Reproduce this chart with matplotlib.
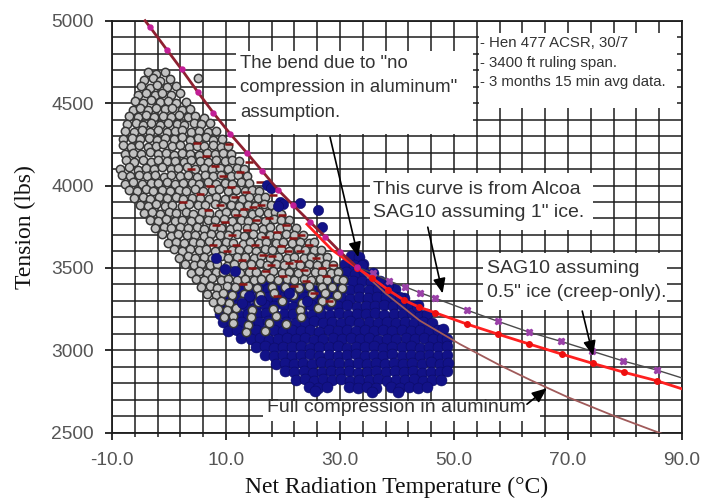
import numpy as np
import matplotlib
matplotlib.use("Agg")
import matplotlib.pyplot as plt
from matplotlib.patches import Rectangle

# ---------------- data ----------------
# common "no compression" curve above the bend (thick maroon, magenta markers)
upper_temp = [-4.2, -3.3, -0.4, 2.2, 5.1, 7.8, 10.7, 13.6, 16.3, 19.1, 21.8, 24.7, 27.4, 30.0, 33.0]
upper_tension = [5000, 4960, 4825, 4705, 4565, 4440, 4315, 4200, 4090, 3975, 3880, 3780, 3690, 3598, 3505]

# SAG10 assuming 1" ice, below the bend
ice1_temp = [33.0, 35.8, 38.6, 41.4, 44.0, 46.7, 52.2, 57.7, 63.1, 68.8, 74.2, 79.7, 85.6, 90.0]
ice1_tension = [3505, 3467, 3420, 3386, 3350, 3316, 3245, 3176, 3111, 3054, 2995, 2935, 2880, 2832]

# SAG10 assuming 0.5" ice (creep-only)
ice05_temp = [24.2, 28.5, 33.0, 35.6, 38.5, 41.2, 43.9, 46.7, 52.2, 57.7, 63.2, 68.9, 74.3, 79.8, 85.6, 90.0]
ice05_tension = [3765, 3612, 3500, 3440, 3365, 3305, 3262, 3228, 3160, 3098, 3038, 2977, 2921, 2867, 2815, 2766]

# Full compression in aluminum
full_temp = [33.0, 38.0, 44.0, 51.0, 58.0, 63.5, 69.8, 77.7, 85.8, 88.0]
full_tension = [3505, 3345, 3180, 3038, 2910, 2818, 2718, 2607, 2502, 2475]

# measured data, 15-min averages (temperature, tension) pairs
gray_pts = [
    -3.6,4686, -2.2,4679, -0.7,4690, 5.1,4655,
    -4.3,4640, -2.8,4652, -1.5,4637, 0.2,4646,
    -4.9,4604, -3.4,4591, -2.1,4607, -0.4,4596, 1.2,4601,
    -5.5,4550, -4.1,4561, -2.5,4547, -1.2,4559, 0.4,4552, 1.9,4562,
    -6.0,4513, -4.5,4502, -3.2,4516, -1.6,4505, -0.1,4512, 1.3,4501, 2.9,4509,
    -6.4,4460, -5.1,4468, -3.6,4457, -2.3,4471, -0.7,4462, 0.6,4469, 2.2,4458, 3.7,4466,
    -7.0,4423, -5.5,4415, -4.0,4426, -2.7,4413, -1.1,4421, 0.4,4417, 1.8,4427, 3.3,4414, 4.6,4420, 6.1,4411,
    -7.3,4372, -5.8,4381, -4.5,4369, -3.1,4378, -1.5,4368, -0.2,4382, 1.4,4374, 2.7,4366, 4.3,4379, 5.6,4371, 7.2,4377,
    -7.7,4333, -6.1,4324, -4.7,4337, -3.4,4326, -1.9,4334, -0.4,4323, 1.0,4331, 2.3,4339, 3.9,4325, 5.2,4333, 6.8,4322, 8.3,4330,
    -8.0,4281, -6.5,4291, -5.1,4282, -3.5,4289, -2.1,4278, -0.7,4287, 0.8,4281, 2.2,4292, 3.6,4279, 5.0,4286, 6.5,4293, 7.8,4278, 9.3,4285,
    -8.1,4243, -6.7,4235, -5.2,4246, -3.7,4233, -2.3,4241, -1.0,4249, 0.6,4237, 1.9,4245, 3.5,4234, 4.9,4242, 6.2,4238, 7.7,4247, 9.1,4235, 10.4,4241,
    -7.8,4192, -6.3,4200, -4.9,4189, -3.4,4201, -2.0,4193, -0.6,4197, 0.9,4188, 2.3,4200, 3.7,4194, 5.2,4187, 6.6,4198, 8.0,4190, 9.5,4196, 10.9,4189,
    -7.6,4154, -6.2,4145, -4.6,4152, -3.2,4142, -1.9,4156, -0.3,4147, 1.0,4151, 2.6,4143, 3.9,4157, 5.4,4149, 6.9,4142, 8.2,4153, 9.8,4146, 11.1,4152, 12.3,4147,
    -8.6,4101, -7.0,4110, -5.5,4097, -4.1,4107, -2.6,4103, -1.2,4111, 0.3,4098, 1.6,4106, 3.2,4112, 4.6,4099, 6.1,4108, 7.5,4101, 9.0,4106, 10.3,4098, 11.9,4109, 13.1,4102,
    -8.3,4063, -6.8,4055, -5.3,4065, -3.9,4056, -2.4,4062, -0.9,4053, 0.4,4066, 2.0,4057, 3.4,4061, 4.9,4054, 6.3,4066, 7.8,4058, 9.2,4063, 10.8,4055, 12.1,4062, 13.7,4057,
    -7.7,4012, -6.3,4020, -4.8,4010, -3.2,4018, -1.9,4013, -0.4,4021, 1.1,4009, 2.4,4017, 4.0,4014, 5.3,4008, 6.9,4019, 8.2,4012, 9.8,4016, 11.1,4009, 12.7,4020, 14.1,4013,
    -7.1,3973, -5.7,3965, -4.1,3976, -2.8,3967, -1.2,3972, 0.2,3964, 1.7,3975, 3.0,3968, 4.6,3978, 5.9,3966, 7.5,3971, 8.8,3977, 10.4,3966, 11.7,3973, 13.3,3964, 14.6,3972, 15.8,3967,
    -6.1,3922, -4.6,3930, -3.3,3919, -1.7,3928, -0.3,3923, 1.2,3932, 2.5,3920, 4.1,3927, 5.4,3924, 7.0,3918, 8.3,3931, 9.9,3921, 11.2,3926, 12.8,3919, 14.1,3930, 15.7,3923, 16.8,3928,
    -5.1,3884, -3.6,3876, -2.3,3887, -0.7,3878, 0.6,3883, 2.2,3875, 3.5,3886, 5.1,3879, 6.4,3882, 8.0,3888, 9.3,3875, 10.9,3884, 12.2,3877, 13.8,3883, 15.1,3876, 16.7,3886, 17.9,3880,
    -4.4,3832, -2.9,3840, -1.6,3829, 0.0,3838, 1.3,3833, 2.9,3841, 4.2,3830, 5.8,3837, 7.1,3834, 8.7,3828, 10.0,3840, 11.6,3832, 12.9,3836, 14.5,3829, 15.8,3839, 17.4,3833, 18.6,3837, 19.7,3830,
    -3.4,3793, -1.9,3785, -0.6,3796, 1.0,3787, 2.3,3792, 3.9,3784, 5.2,3795, 6.8,3788, 8.1,3791, 9.7,3797, 11.0,3785, 12.6,3793, 13.9,3786, 15.5,3792, 16.8,3785, 18.4,3795, 19.6,3788, 21.0,3791,
    -2.4,3742, -0.9,3750, 0.4,3740, 2.0,3748, 3.3,3743, 4.9,3751, 6.2,3739, 7.8,3747, 9.1,3744, 10.7,3738, 12.0,3750, 13.6,3742, 14.9,3746, 16.5,3739, 17.8,3749, 19.4,3743, 20.7,3747, 22.2,3740,
    -1.2,3703, 0.3,3695, 1.6,3706, 3.2,3697, 4.5,3702, 6.1,3694, 7.4,3705, 9.0,3698, 10.3,3701, 11.9,3707, 13.2,3695, 14.8,3703, 16.1,3696, 17.7,3702, 19.0,3695, 20.6,3705, 21.9,3698, 23.5,3701,
    -0.2,3652, 1.3,3660, 2.6,3650, 4.2,3658, 5.5,3653, 7.1,3661, 8.4,3649, 10.0,3657, 11.3,3654, 12.9,3648, 14.2,3660, 15.8,3652, 17.1,3656, 18.7,3649, 20.0,3659, 21.6,3653, 22.9,3657, 24.5,3650, 25.4,3656,
    0.8,3613, 2.3,3605, 3.6,3616, 5.2,3607, 6.5,3612, 8.1,3604, 9.4,3615, 11.0,3608, 12.3,3611, 13.9,3617, 15.2,3605, 16.8,3613, 18.1,3606, 19.7,3612, 21.0,3605, 22.6,3615, 23.9,3608, 25.5,3611, 26.7,3606,
    1.8,3562, 3.3,3570, 4.6,3560, 6.2,3568, 7.5,3563, 9.1,3571, 10.4,3559, 12.0,3567, 13.3,3564, 14.9,3558, 16.2,3570, 17.8,3562, 19.1,3566, 20.7,3559, 22.0,3569, 23.6,3563, 24.9,3567, 26.5,3560, 27.7,3565,
    2.8,3523, 4.3,3515, 5.6,3526, 7.2,3517, 8.5,3522, 10.1,3514, 11.4,3525, 13.0,3518, 14.3,3521, 15.9,3527, 17.2,3515, 18.8,3523, 20.1,3516, 21.7,3522, 23.0,3515, 24.6,3525, 25.9,3518, 27.5,3521, 28.7,3516,
    3.8,3472, 5.3,3480, 6.6,3470, 8.2,3478, 9.5,3473, 11.1,3481, 12.4,3469, 14.0,3477, 15.3,3474, 16.9,3468, 18.2,3480, 19.8,3472, 21.1,3476, 22.7,3469, 24.0,3479, 25.6,3473, 26.9,3477, 28.5,3470, 29.7,3475,
    4.7,3433, 6.2,3425, 7.5,3436, 9.1,3427, 10.4,3432, 12.0,3424, 13.3,3435, 14.9,3428, 16.2,3431, 17.8,3437, 19.1,3425, 20.7,3433, 22.0,3426, 23.6,3432, 24.9,3425, 26.5,3435, 27.8,3428, 29.4,3431, 30.6,3426,
    5.7,3382, 7.2,3390, 8.5,3380, 10.1,3388, 11.6,3383, 13.9,3391, 15.5,3379, 18.0,3387, 20.4,3384, 22.8,3378, 24.5,3389, 26.9,3382, 28.6,3386, 30.4,3379,
    6.7,3343, 8.2,3335, 9.5,3346, 11.1,3337, 13.2,3342, 15.9,3334, 18.4,3345, 21.7,3338, 25.1,3341, 27.3,3347, 29.5,3336,
    7.7,3292, 9.2,3300, 10.6,3290, 12.8,3298, 15.7,3293, 19.9,3301, 23.3,3289, 26.8,3297, 28.5,3294,
    8.6,3253, 10.1,3245, 11.7,3256, 14.6,3247, 18.2,3252, 22.9,3244, 26.1,3255,
    9.6,3202, 11.2,3210, 14.3,3200, 18.8,3208, 23.1,3203,
    11.3,3163, 13.9,3155, 17.5,3166, 20.6,3157,
    13.5,3112, 16.9,3120,
]

blue_pts = [
    31.9,3572, 33.3,3566,
    30.9,3523, 32.5,3515, 34.1,3521,
    29.4,3468, 31.0,3475, 32.7,3466, 34.2,3473, 35.8,3467,
    16.4,3422, 18.1,3415, 19.9,3424, 21.6,3417, 27.5,3421, 29.2,3414, 30.7,3425, 32.3,3418, 33.9,3423, 35.4,3416, 37.0,3421,
    10.9,3372, 12.6,3366, 14.2,3375, 15.8,3368, 17.4,3373, 19.0,3365, 20.6,3374, 22.2,3369, 23.8,3376, 25.3,3367, 27.0,3372, 28.6,3365, 30.2,3374, 31.8,3368, 33.4,3375, 35.0,3366, 36.6,3371, 38.1,3367, 39.7,3373,
    9.3,3318, 10.9,3325, 12.5,3316, 14.1,3324, 15.7,3317, 17.3,3326, 18.9,3315, 20.5,3323, 22.1,3319, 23.7,3326, 25.3,3316, 26.9,3322, 28.5,3318, 30.1,3325, 31.7,3314, 33.3,3323, 34.9,3317, 36.5,3324, 38.1,3315, 39.7,3321, 41.3,3318,
    8.9,3272, 10.5,3266, 12.1,3274, 13.7,3265, 15.3,3271, 16.9,3276, 18.5,3267, 20.1,3273, 21.7,3264, 23.3,3270, 24.9,3275, 26.5,3266, 28.1,3272, 29.7,3268, 31.3,3275, 32.9,3265, 34.5,3271, 36.1,3267, 37.7,3274, 39.3,3266, 40.9,3272, 42.4,3268, 43.6,3274,
    9.0,3218, 10.6,3225, 12.2,3216, 13.8,3223, 15.4,3219, 17.0,3226, 18.6,3215, 20.2,3222, 21.8,3218, 23.4,3225, 25.0,3214, 26.6,3221, 28.2,3217, 29.8,3224, 31.4,3216, 33.0,3222, 34.6,3219, 36.2,3226, 37.8,3215, 39.4,3221, 41.0,3218, 42.6,3224, 44.1,3216, 45.2,3221,
    9.4,3172, 11.0,3166, 12.6,3174, 14.2,3165, 15.8,3171, 17.4,3176, 19.0,3167, 20.6,3173, 22.2,3164, 23.8,3170, 25.4,3175, 27.0,3166, 28.6,3172, 30.2,3168, 31.8,3175, 33.4,3165, 35.0,3171, 36.6,3167, 38.2,3174, 39.8,3166, 41.4,3172, 43.0,3168, 44.6,3174, 46.2,3167,
    10.4,3118, 12.0,3125, 13.6,3116, 15.2,3123, 16.8,3119, 18.4,3126, 20.0,3115, 21.6,3122, 23.2,3118, 24.8,3125, 26.4,3114, 28.0,3121, 29.6,3117, 31.2,3124, 32.8,3116, 34.4,3122, 36.0,3119, 37.6,3126, 39.2,3115, 40.8,3121, 42.4,3118, 44.0,3124, 45.6,3116, 47.2,3121, 48.1,3127,
    12.7,3072, 14.3,3066, 15.9,3074, 17.5,3065, 19.1,3071, 20.7,3076, 22.3,3067, 23.9,3073, 25.5,3064, 27.1,3070, 28.7,3075, 30.3,3066, 31.9,3072, 33.5,3068, 35.1,3075, 36.7,3065, 38.3,3071, 39.9,3067, 41.5,3074, 43.1,3066, 44.7,3072, 46.3,3068, 47.9,3074, 48.7,3066,
    15.2,3018, 16.8,3025, 18.4,3016, 20.0,3023, 21.6,3019, 23.2,3026, 24.8,3015, 26.4,3022, 28.0,3018, 29.6,3025, 31.2,3014, 32.8,3021, 34.4,3017, 36.0,3024, 37.6,3016, 39.2,3022, 40.8,3019, 42.4,3026, 44.0,3015, 45.6,3021, 47.2,3018, 48.7,3024,
    16.8,2972, 18.4,2966, 20.0,2974, 21.6,2965, 23.2,2971, 24.8,2976, 26.4,2967, 28.0,2973, 29.6,2964, 31.2,2970, 32.8,2975, 34.4,2966, 36.0,2972, 37.6,2968, 39.2,2975, 40.8,2965, 42.4,2971, 44.0,2967, 45.6,2974, 47.2,2966, 48.8,2972,
    18.7,2918, 20.3,2925, 21.9,2916, 23.5,2923, 25.1,2919, 26.7,2926, 28.3,2915, 29.9,2922, 31.5,2918, 33.1,2925, 34.7,2914, 36.3,2921, 37.9,2917, 39.5,2924, 41.1,2916, 42.7,2922, 44.3,2919, 45.9,2926, 47.5,2915, 48.9,2921,
    20.4,2872, 22.0,2866, 23.6,2874, 25.2,2865, 26.8,2871, 28.4,2876, 30.0,2867, 31.6,2873, 33.2,2864, 34.8,2870, 36.4,2875, 38.0,2866, 39.6,2872, 41.2,2868, 42.8,2875, 44.4,2865, 46.0,2871, 47.6,2867, 48.7,2874,
    22.2,2818, 23.8,2825, 25.4,2816, 27.0,2823, 28.6,2819, 30.2,2826, 31.8,2815, 33.4,2822, 35.0,2818, 36.6,2825, 38.2,2814, 39.8,2821, 41.4,2817, 43.0,2824, 44.6,2816, 46.2,2822, 47.8,2819,
    24.6,2777, 26.2,2771, 27.8,2779, 31.5,2775, 33.1,2770, 34.7,2778, 36.3,2772, 38.9,2776, 40.5,2770, 42.1,2779, 43.7,2772, 45.2,2777,
    25.6,2752, 35.6,2748, 40.1,2746,
]

# scattered blue readings lying above / inside the gray cloud
blue_extra_pts = [
    17.2,4003, 17.9,3987, 19.4,3898, 20.0,3885, 19.1,3876, 23.0,3892, 26.1,3850, 26.8,3748,
    33.9,3517, 37.0,3414, 38.4,3395, 40.5,3323, 43.5,3262,
    9.8,3495, 11.5,3480, 8.2,3562, 14.0,3330, 12.8,3290, 16.2,3305, 21.0,3350, 24.2,3300,
]

# dark red readings showing between the gray circles
red_pts = [
    6.5,4180, 8.0,4120, 9.5,4060, 7.2,4000, 10.8,3990, 12.4,4080, 11.6,3930, 13.5,3960, 9.0,3880,
    14.8,3870, 12.0,3820, 16.2,3880, 15.3,3790, 17.6,3800, 13.7,3730, 18.9,3720, 16.8,3690, 20.5,3760,
    21.8,3680, 19.6,3630, 15.0,3640, 22.9,3600, 18.0,3570, 24.5,3640, 25.8,3560, 21.0,3530, 23.6,3490,
    26.9,3500, 20.0,3450, 17.0,3480, 11.0,3700, 10.2,3600, 12.8,3550, 14.5,3500, 8.3,3760, 6.8,3850,
    5.5,3950, 7.8,3640, 9.6,3480, 27.5,3450, 28.8,3520, 24.0,3420, 16.0,4020, 14.0,4140, 18.2,3940,
    13.0,3400, 22.0,3390, 25.5,3350, 19.0,3330, 28.0,3300, 3.8,4100, 4.9,4260, 10.5,4250, 2.5,3900,
    11.8,3640, 16.5,3580, 20.8,3600, 23.2,3700, 19.8,3820, 13.2,3860, 9.8,3780, 17.9,3520, 22.6,3540,
]

x_ticks = [-10, 10, 30, 50, 70, 90]
y_ticks = [2500, 3000, 3500, 4000, 4500, 5000]

# ---------------- figure ----------------
fig = plt.figure(figsize=(7.02, 5.01), dpi=100)
ax = fig.add_axes([112 / 702, (501 - 432.7) / 501, 570 / 702, 412 / 501])

ax.set_xlim(-10, 90)
ax.set_ylim(2500, 5000)
ax.set_xticks(x_ticks)
ax.set_xticklabels([f"{v:.1f}" for v in x_ticks])
ax.set_yticks(y_ticks)
ax.set_xticks(np.arange(-10, 91, 4), minor=True)
ax.set_yticks(np.arange(2500, 5001, 100), minor=True)
ax.set_axisbelow(True)
ax.grid(which="both", color="#1c1c1c", lw=1.1)

for s in ax.spines.values():
    s.set_color("#1c1c1c")
    s.set_linewidth(1.3)

for lab in ax.get_xticklabels() + ax.get_yticklabels():
    lab.set_fontfamily("Liberation Sans")
    lab.set_fontsize(13.8)
ax.tick_params(axis="both", which="major", length=5, width=1.3, color="#1c1c1c",
               labelcolor="#555555")
ax.tick_params(axis="y", which="major", pad=8)
ax.tick_params(axis="x", which="major", pad=9)
ax.tick_params(axis="x", which="minor", length=3, width=1.1, color="#1c1c1c")
ax.tick_params(axis="y", which="minor", length=0)

ax.set_xlabel("Net Radiation Temperature (\u00b0C)", fontfamily="Liberation Serif",
              fontsize=17, color="#111111")
ax.set_ylabel("Tension (lbs)", fontfamily="Liberation Serif", fontsize=17, color="#111111")
ax.xaxis.set_label_coords(0.5, -0.108)
ax.yaxis.set_label_coords(-0.133, 0.5)

# white boxes behind annotation texts (cover the grid)
boxes = [
    (11.8, 4310, 41.5, 505),   # bend text
    (54.4, 4470, 34.7, 455),   # conductor info
    (35.3, 3729, 39.1, 347),   # 1" ice text
    (55.1, 3244, 32.3, 346),   # 0.5" ice text
    (16.5, 2570, 48.6, 120),   # full compression text
]
for (x0, y0, w, h) in boxes:
    ax.add_patch(Rectangle((x0, y0), w, h, facecolor="white", edgecolor="none", zorder=1))

# scatter data
red = np.array(red_pts).reshape(-1, 2)
gray = np.array(gray_pts).reshape(-1, 2)
blue = np.array(blue_pts).reshape(-1, 2)
blue_x = np.array(blue_extra_pts).reshape(-1, 2)

ax.scatter(blue[:, 0], blue[:, 1], s=62, facecolor="#121288", edgecolor="#0b0b66",
           lw=0.4, zorder=3)
ax.scatter(gray[:, 0], gray[:, 1], s=36, facecolor="#c2c2c2", edgecolor="#363636",
           lw=1.1, zorder=4)
ax.scatter(red[:, 0], red[:, 1], s=30, marker="_", color="#8b1515", lw=1.8, zorder=4.5)
ax.scatter(blue_x[:, 0], blue_x[:, 1], s=55, facecolor="#121288", edgecolor="#0b0b66",
           lw=0.4, zorder=5)

# curves
ax.plot(full_temp, full_tension, color="#a05a5a", lw=1.3, zorder=6)
ax.plot(ice1_temp, ice1_tension, color="#4a4a4a", lw=1.0, zorder=6,
        marker="X", ms=5, mfc="#9a40a8", mec="#9a40a8", markevery=list(range(1, 13)))
ax.plot(ice05_temp, ice05_tension, color="#ff2020", lw=2.0, zorder=7,
        marker="o", ms=4, mfc="#ee1010", mec="#ee1010", markevery=list(range(2, 15)))
ax.plot(upper_temp, upper_tension, color="#8e2030", lw=2.0, zorder=8,
        marker="o", ms=3.6, mfc="#c21e96", mec="#c21e96", markevery=list(range(1, 15)),
        clip_on=False)

# texts
txt = dict(family="Liberation Sans", color="#333333", va="center", ha="left", zorder=10)
ax.text(12.46, 4743, 'The bend due to "no', fontsize=13.4, **txt)
ax.text(12.46, 4592, 'compression in aluminum"', fontsize=13.4, **txt)
ax.text(12.46, 4440, 'assumption.', fontsize=13.4, **txt)

ax.text(54.6, 4865, "- Hen 477 ACSR, 30/7", fontsize=10.8, **txt)
ax.text(54.6, 4743, "- 3400 ft ruling span.", fontsize=10.8, **txt)
ax.text(54.6, 4628, "- 3 months 15 min avg data.", fontsize=10.8, **txt)

ax.text(35.8, 3973, "This curve is from Alcoa", fontsize=14, **txt)
ax.text(35.8, 3839, 'SAG10 assuming 1" ice.', fontsize=14, **txt)

ax.text(55.8, 3499, "SAG10 assuming", fontsize=14, **txt)
ax.text(55.8, 3348, '0.5" ice (creep-only).', fontsize=14, **txt)

ax.text(17.2, 2650, "Full compression in aluminum", fontsize=14, **txt)

# arrows
arr = dict(arrowstyle="-|>,head_length=0.6,head_width=0.25", color="black", lw=1.2,
           mutation_scale=15, shrinkA=0, shrinkB=0)
ax.annotate("", xy=(33.2, 3565), xytext=(28.25, 4294), arrowprops=arr, zorder=11)
ax.annotate("", xy=(48.0, 3345), xytext=(45.4, 3747), arrowprops=arr, zorder=11)
ax.annotate("", xy=(74.4, 2966), xytext=(72.5, 3238), arrowprops=arr, zorder=11)
ax.annotate("", xy=(66.3, 2770), xytext=(62.8, 2673), arrowprops=arr, zorder=11)

fig.savefig("out.png", dpi=100)
